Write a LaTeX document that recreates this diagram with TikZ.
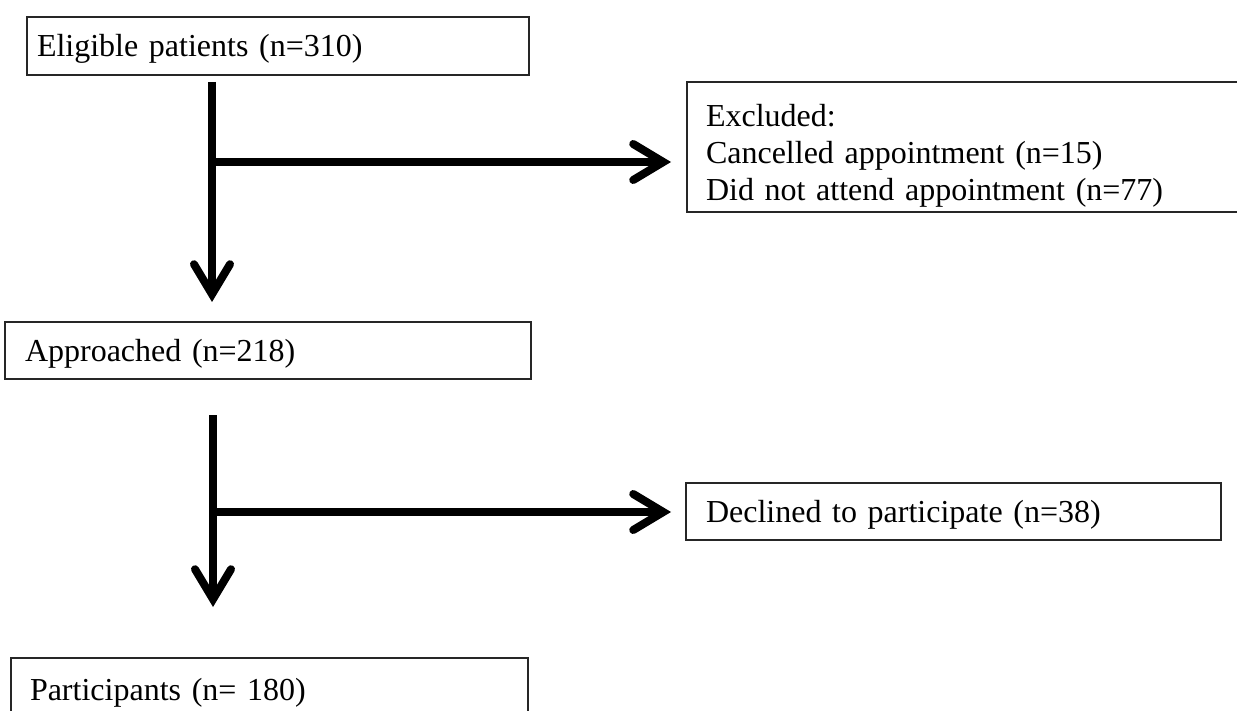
\documentclass[tikz,border=0pt]{standalone}
\usepackage{fontspec}
\setmainfont{Liberation Serif}
\usetikzlibrary{arrows.meta}
\newcommand\mystrut{\rule{0pt}{32.8pt}}
\newcommand\mytopstrut{\rule{0pt}{43.8pt}}
\begin{document}
\begin{tikzpicture}[x=1pt,y=-1pt,
  box/.style={draw=black!85, line width=1.5pt, rectangle, anchor=north west,
    align=left, inner ysep=0pt, outer sep=0pt,
    font=\fontsize{32}{36.8}\selectfont},
  flow/.style={line width=8pt,
    -{Straight Barb[length=30pt,width=36pt,line cap=round,line join=miter]}}
]
\clip (0,0) rectangle (1237,711);
\fill[white] (0,0) rectangle (1237,711);

\node[box, minimum width=502pt, minimum height=58pt, inner xsep=10pt, text width=482pt]
  (elig) at (27,17) {\mystrut Eligible patients (n=310)\strut};
\node[box, minimum width=560pt, minimum height=130pt, inner xsep=19pt, text width=522pt]
  (excl) at (687,82) {\mytopstrut Excluded:\\ Cancelled appointment (n=15)\\ Did not attend appointment (n=77)\strut};
\node[box, minimum width=526pt, minimum height=57pt, inner xsep=20pt, text width=486pt]
  (appr) at (5,322) {\mystrut Approached (n=218)\strut};
\node[box, minimum width=535pt, minimum height=57pt, inner xsep=20pt, text width=495pt]
  (decl) at (686,483) {\mystrut Declined to participate (n=38)\strut};
\node[box, minimum width=517pt, minimum height=63pt, inner xsep=19pt, text width=479pt]
  (part) at (11,658) {\mystrut Participants (n= 180)\strut};

\coordinate (s1) at (212,82);
\coordinate (b1) at (212,162);
\coordinate (t1) at (212,302);
\coordinate (h1) at (671,162);
\coordinate (s2) at (213,415);
\coordinate (b2) at (213,512);
\coordinate (t2) at (213,607);
\coordinate (h2) at (671,512);

\draw[flow] (s1) -- (t1);
\draw[flow] (b1) -- (h1);
\draw[flow] (s2) -- (t2);
\draw[flow] (b2) -- (h2);
\end{tikzpicture}
\end{document}
